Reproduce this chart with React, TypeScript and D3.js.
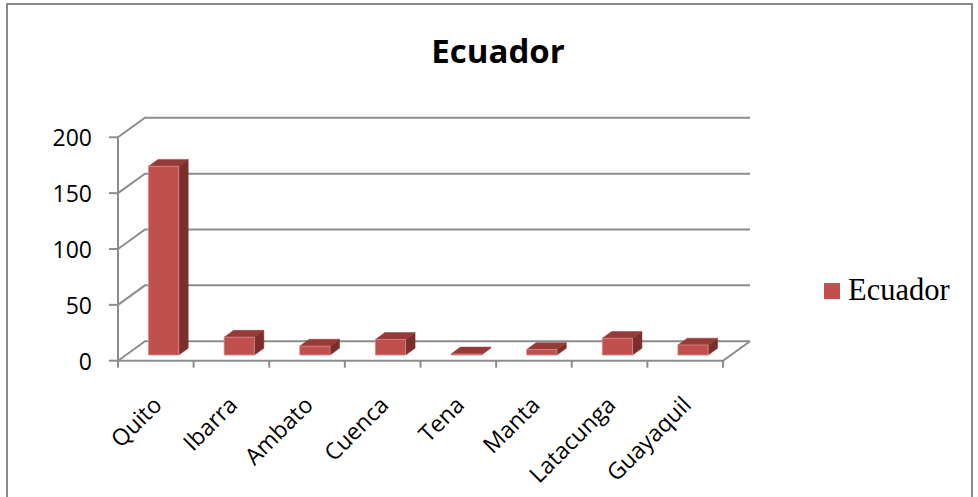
import React from 'react';
import * as d3 from 'd3';

const categories = ['Quito', 'Ibarra', 'Ambato', 'Cuenca', 'Tena', 'Manta', 'Latacunga', 'Guayaquil'];
const values = [169, 16, 8, 14, 1, 5, 15, 9];
const yTicks = [0, 50, 100, 150, 200];
const seriesName = 'Ecuador';

const W = 978;
const H = 497;

// oblique depth offset of the 3D plot box
const DX = 27;
const DY = 19.5;
// bar depth range inside the box (0 = front, 1 = back)
const Z_FRONT = 0.29;
const Z_BACK = 0.64;

const GRID = '#8c8c8c';
const FRONT = '#C0504D';
const TOP = '#963A38';
const SIDE = '#7A2F2D';

export default function App() {
  const x0 = 118;
  const x1 = 723;
  const x = d3.scaleBand<string>().domain(categories).range([x0, x1]);
  const xBar = d3
    .scaleBand<string>()
    .domain(categories)
    .range([x0, x1])
    .paddingInner(0.6)
    .paddingOuter(0.3);
  const y = d3.scaleLinear().domain([0, 200]).range([360.7, 137.3]);

  const proj = (px: number, v: number, z: number): [number, number] => [px + z * DX, y(v) - z * DY];
  const pts = (arr: [number, number][]) => arr.map((p) => p.join(',')).join(' ');

  const step = x.step();
  const catTicks = d3.range(categories.length + 1).map((i) => x0 + i * step);

  return (
    <svg
      width={W}
      height={H}
      style={{ position: 'absolute', left: 0, top: 0, background: '#fff' }}
      xmlns="http://www.w3.org/2000/svg"
    >
      <rect x={0} y={0} width={W} height={H} fill="#fff" />
      {/* chart area border */}
      <rect x={7} y={4} width={965} height={500} fill="none" stroke="#8a8a8a" strokeWidth={2} />

      {/* title */}
      <text
        x={498}
        y={63}
        textAnchor="middle"
        fontFamily="'Open Sans', sans-serif"
        fontWeight={700}
        fontSize={33}
        fill="#000"
      >
        {seriesName}
      </text>

      {/* side wall diagonals + back wall gridlines */}
      {yTicks.map((t) => {
        const a = proj(x0, t, 0);
        const b = proj(x0, t, 1);
        const c = proj(x1, t, 1);
        return (
          <polyline
            key={`g${t}`}
            points={pts([a, b, c])}
            fill="none"
            stroke={GRID}
            strokeWidth={2}
          />
        );
      })}

      {/* floor front and right edges */}
      <polyline
        points={pts([proj(x0, 0, 0), proj(x1, 0, 0), proj(x1, 0, 1)])}
        fill="none"
        stroke={GRID}
        strokeWidth={2}
      />

      {/* value axis */}
      <line x1={x0} x2={x0} y1={y(0)} y2={y(200)} stroke={GRID} strokeWidth={2} />
      {yTicks.map((t) => (
        <g key={`yt${t}`}>
          <line x1={x0 - 9} x2={x0} y1={y(t)} y2={y(t)} stroke={GRID} strokeWidth={2} />
          <text
            x={92}
            y={y(t)}
            textAnchor="end"
            dominantBaseline="central"
            fontFamily="'Open Sans', sans-serif"
            fontSize={23}
            fill="#000"
          >
            {t}
          </text>
        </g>
      ))}

      {/* category ticks */}
      {catTicks.map((cx, i) => (
        <line key={`ct${i}`} x1={cx} x2={cx} y1={y(0)} y2={y(0) + 7} stroke={GRID} strokeWidth={2} />
      ))}

      {/* 3D columns */}
      {categories.map((c, i) => {
        const v = values[i];
        const l = xBar(c) as number;
        const r = l + xBar.bandwidth();
        const front: [number, number][] = [
          proj(l, 0, Z_FRONT),
          proj(r, 0, Z_FRONT),
          proj(r, v, Z_FRONT),
          proj(l, v, Z_FRONT),
        ];
        const top: [number, number][] = [
          proj(l, v, Z_FRONT),
          proj(r, v, Z_FRONT),
          proj(r, v, Z_BACK),
          proj(l, v, Z_BACK),
        ];
        const side: [number, number][] = [
          proj(r, 0, Z_FRONT),
          proj(r, 0, Z_BACK),
          proj(r, v, Z_BACK),
          proj(r, v, Z_FRONT),
        ];
        return (
          <g key={`bar${c}`}>
            <polygon points={pts(side)} fill={SIDE} stroke={SIDE} strokeWidth={0.5} />
            <polygon points={pts(top)} fill={TOP} stroke={TOP} strokeWidth={0.5} />
            <polygon points={pts(front)} fill={FRONT} stroke="#d98a86" strokeWidth={0.8} />
          </g>
        );
      })}

      {/* category labels */}
      {categories.map((c) => {
        const cx = (x(c) as number) + step / 2 + 1;
        const cy = 400;
        return (
          <text
            key={`cl${c}`}
            x={cx}
            y={cy}
            transform={`rotate(-45 ${cx} ${cy})`}
            textAnchor="end"
            dominantBaseline="central"
            fontFamily="'Open Sans', sans-serif"
            fontSize={23}
            fill="#000"
          >
            {c}
          </text>
        );
      })}

      {/* legend */}
      <rect x={824} y={283} width={16} height={16} fill={FRONT} />
      <text
        x={848}
        y={300}
        fontFamily="'Liberation Serif', 'Times New Roman', serif"
        fontSize={30.5}
        fill="#000"
      >
        {seriesName}
      </text>
    </svg>
  );
}
